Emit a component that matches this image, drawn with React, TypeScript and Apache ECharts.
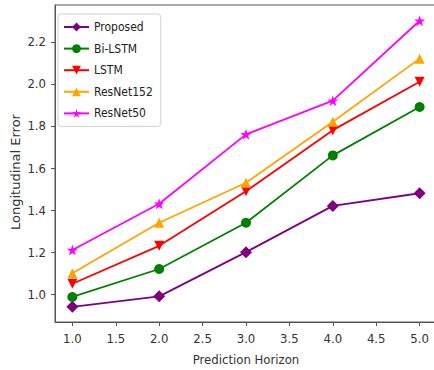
import React, { useEffect, useRef } from "react";
import * as echarts from "echarts";

const horizons = [1, 2, 3, 4, 5];
const proposed = [0.94, 0.99, 1.2, 1.42, 1.48];
const biLstm = [0.987, 1.12, 1.34, 1.66, 1.89];
const lstm = [1.05, 1.23, 1.49, 1.78, 2.01];
const resnet152 = [1.1, 1.34, 1.53, 1.82, 2.12];
const resnet50 = [1.21, 1.43, 1.76, 1.92, 2.3];
const xTicks = [1.0, 1.5, 2.0, 2.5, 3.0, 3.5, 4.0, 4.5, 5.0];
const yTicks = [1.0, 1.2, 1.4, 1.6, 1.8, 2.0, 2.2];

const STAR =
  "path://M50,0 L61.8,36.2 L100,36.2 L69.1,58.8 L80.9,95.1 L50,72.7 L19.1,95.1 L30.9,58.8 L0,36.2 L38.2,36.2 Z";

const seriesDefs = [
  { name: "Proposed", data: proposed, color: "#800080", symbol: "diamond", size: 12, rotate: 0 },
  { name: "Bi-LSTM", data: biLstm, color: "#008000", symbol: "circle", size: 10, rotate: 0 },
  { name: "LSTM", data: lstm, color: "#ff0000", symbol: "triangle", size: 10, rotate: 180 },
  { name: "ResNet152", data: resnet152, color: "#ffa500", symbol: "triangle", size: 10, rotate: 0 },
  { name: "ResNet50", data: resnet50, color: "#ff00ff", symbol: STAR, size: 11, rotate: 0 },
];

export default function App() {
  const ref = useRef<HTMLDivElement>(null);
  useEffect(() => {
    document.body.style.margin = "0";
    const chart = echarts.init(ref.current!, null, { renderer: "svg" });
    const cond = "DejaVu Sans Condensed";
    const font = "DejaVu Sans";
    chart.setOption({
      animation: false,
      textStyle: { fontFamily: cond },
      grid: {
        left: 55,
        top: 5,
        right: -3,
        bottom: 48,
        containLabel: false,
        outerBoundsMode: "none",
        show: true,
        borderColor: "#555",
        borderWidth: 1,
      },
      graphic: [
        {
          type: "text",
          x: 15,
          y: 172,
          rotation: Math.PI / 2,
          style: {
            text: "Longitudinal Error",
            fontFamily: font,
            fontSize: 13,
            fill: "#333",
            align: "center",
            verticalAlign: "middle",
          },
        },
      ],
      legend: {
        orient: "vertical",
        left: 58,
        top: 14,
        itemWidth: 25,
        itemHeight: 11,
        itemGap: 9.6,
        padding: [7, 8, 7, 5],
        borderColor: "#d0d0d0",
        borderWidth: 1,
        borderRadius: 3,
        backgroundColor: "#fff",
        textStyle: { fontFamily: cond, fontSize: 12, color: "#222" },
        data: seriesDefs.map((s) => s.name),
      },
      xAxis: {
        type: "value",
        min: 0.8,
        max: 5.2,
        name: "Prediction Horizon",
        nameLocation: "middle",
        nameGap: 31,
        nameTextStyle: { fontFamily: cond, fontSize: 13, color: "#333" },
        splitLine: { show: false },
        axisLine: { show: true, lineStyle: { color: "#555" } },
        axisTick: { show: true, customValues: xTicks, length: 4, lineStyle: { color: "#555" } },
        axisLabel: {
          customValues: xTicks,
          formatter: (v: number) => v.toFixed(1),
          fontFamily: cond,
          fontSize: 13,
          color: "#333",
          margin: 10,
        },
      },
      yAxis: {
        type: "value",
        min: 0.868,
        max: 2.375,
        splitLine: { show: false },
        axisLine: { show: true, lineStyle: { color: "#555" } },
        axisTick: { show: true, customValues: yTicks, length: 4, lineStyle: { color: "#555" } },
        axisLabel: {
          customValues: yTicks,
          formatter: (v: number) => v.toFixed(1),
          fontFamily: cond,
          fontSize: 13,
          color: "#333",
          margin: 9,
        },
      },
      series: seriesDefs.map((s) => ({
        name: s.name,
        type: "line",
        data: s.data.map((v, i) => [horizons[i], v]),
        symbol: s.symbol,
        symbolSize: s.size,
        symbolRotate: s.rotate,
        showAllSymbol: true,
        itemStyle: { color: s.color },
        lineStyle: { color: s.color, width: 1.8 },
      })),
    });
    return () => chart.dispose();
  }, []);
  return <div ref={ref} style={{ width: 434, height: 370 }} />;
}
